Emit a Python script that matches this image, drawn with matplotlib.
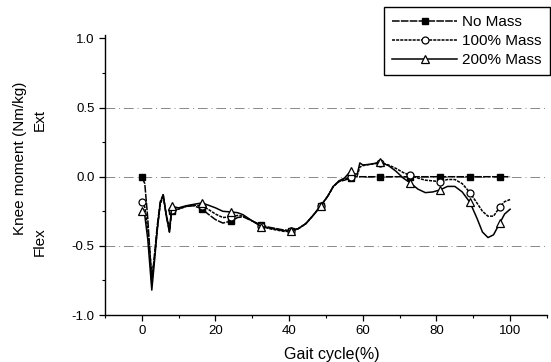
import numpy as np
import matplotlib
matplotlib.use('Agg')
import matplotlib.pyplot as plt
from matplotlib.ticker import MultipleLocator

plt.rcParams['font.family'] = ['Liberation Sans', 'DejaVu Sans']

# Gait cycle (%) sample points
gait = [0, 0.8, 1.6, 2.2, 2.7, 3.3, 4.2, 5.0, 5.8, 6.6, 7.5, 8.1, 10, 12, 14,
        16.2, 18, 20, 22, 24.3, 26, 27.5, 30, 32.4, 34.5, 36.5, 38.5, 40.5,
        42.5, 44.5, 46.5, 48.6, 50.5, 52, 53.5, 55, 56.7, 57.6, 58.5, 59.2,
        60, 62, 64.8, 67, 69, 71, 72.9, 75, 77, 79, 81, 83, 85, 87, 89.1, 91,
        92.5, 94, 95.5, 97.2, 98.5, 100]

# gait positions that carry a marker
marker_x = [0, 8.1, 16.2, 24.3, 32.4, 40.5, 48.6, 56.7, 64.8, 72.9, 81, 89.1, 97.2]

no_mass = [0.0, -0.05, -0.30, -0.55, -0.78, -0.60, -0.35, -0.18, -0.13, -0.28,
           -0.40, -0.25, -0.23, -0.215, -0.21, -0.23, -0.27, -0.31, -0.335,
           -0.32, -0.295, -0.29, -0.32, -0.35, -0.365, -0.375, -0.385, -0.39,
           -0.375, -0.34, -0.28, -0.21, -0.14, -0.07, -0.035, -0.025, -0.01,
           0.0, 0.0, 0.0, 0.0, 0.0, 0.0, 0.0, 0.0, 0.0, 0.0, 0.0, 0.0, 0.0,
           0.0, 0.0, 0.0, 0.0, 0.0, 0.0, 0.0, 0.0, 0.0, 0.0, 0.0, 0.0]

mass_100 = [-0.18, -0.22, -0.38, -0.55, -0.70, -0.62, -0.38, -0.20, -0.14,
            -0.27, -0.38, -0.24, -0.235, -0.215, -0.205, -0.21, -0.235, -0.27,
            -0.295, -0.29, -0.28, -0.285, -0.32, -0.355, -0.375, -0.385,
            -0.395, -0.395, -0.375, -0.34, -0.28, -0.21, -0.14, -0.07, -0.035,
            -0.02, 0.0, 0.0, 0.01, 0.07, 0.08, 0.09, 0.10, 0.085, 0.06, 0.03,
            0.01, -0.01, -0.025, -0.03, -0.035, -0.02, -0.02, -0.05, -0.115,
            -0.19, -0.25, -0.285, -0.285, -0.22, -0.18, -0.165]

mass_200 = [-0.245, -0.28, -0.45, -0.65, -0.82, -0.65, -0.38, -0.19, -0.13,
            -0.27, -0.40, -0.215, -0.225, -0.21, -0.20, -0.19, -0.205, -0.225,
            -0.25, -0.255, -0.26, -0.275, -0.32, -0.36, -0.37, -0.38, -0.39,
            -0.39, -0.375, -0.34, -0.28, -0.21, -0.14, -0.07, -0.03, -0.01,
            0.04, 0.02, 0.02, 0.10, 0.085, 0.09, 0.105, 0.08, 0.04, -0.01,
            -0.045, -0.09, -0.115, -0.11, -0.095, -0.07, -0.07, -0.11, -0.185,
            -0.30, -0.40, -0.44, -0.42, -0.335, -0.27, -0.235]

mark_idx = [gait.index(m) for m in marker_x]

fig = plt.figure(figsize=(5.51, 3.62), dpi=100)
ax = fig.add_axes([0.1906, 0.1298, 0.802, 0.7735])

# dash-dot reference lines
for yv in [0.5, 0.0, -0.5, -1.0]:
    ax.axhline(yv, color='#888888', lw=0.7, ls=(0, (10, 4, 1, 4)), zorder=1)

ax.plot(gait, no_mass, color='black', lw=1.1, ls=(0, (5, 0.8)),
        marker='s', ms=4.5, mfc='black', mec='black',
        markevery=mark_idx, label='No Mass', zorder=3)
ax.plot(gait, mass_100, color='black', lw=1.1, ls=(0, (2, 0.7)),
        marker='o', ms=5, mfc='white', mec='black', mew=0.9,
        markevery=mark_idx, label='100% Mass', zorder=4)
ax.plot(gait, mass_200, color='black', lw=1.1, ls='-',
        marker='^', ms=5.5, mfc='white', mec='black', mew=0.9,
        markevery=mark_idx, label='200% Mass', zorder=5)

ax.set_xlim(-10, 110)
ax.set_ylim(-1.0, 1.025)
ax.xaxis.set_major_locator(MultipleLocator(20))
ax.xaxis.set_minor_locator(MultipleLocator(10))
ax.yaxis.set_minor_locator(MultipleLocator(0.25))
ax.set_yticks([-1.0, -0.5, 0.0, 0.5, 1.0])
ax.set_yticklabels(['-1.0', '-0.5', '0.0', '0.5', '1.0'])
ax.tick_params(which='major', direction='out', length=4, width=0.9, labelsize=9.5)
ax.tick_params(which='minor', direction='out', length=2.5, width=0.8)

ax.spines['top'].set_visible(False)
ax.spines['right'].set_visible(False)
ax.spines['left'].set_linewidth(1.0)
ax.spines['bottom'].set_linewidth(1.0)

# axis labels
fig.text(331.7 / 551, 1 - 355 / 362, 'Gait cycle(%)', ha='center', va='center',
         fontsize=11.5)
fig.text(20 / 551, 1 - 158 / 362, 'Knee moment (Nm/kg)', rotation=90,
         ha='center', va='center', fontsize=11)
fig.text(40 / 551, 1 - 120 / 362, 'Ext', rotation=90, ha='center',
         va='center', fontsize=11)
fig.text(40 / 551, 1 - 242 / 362, 'Flex', rotation=90, ha='center',
         va='center', fontsize=11)

leg = fig.legend(loc='upper right', bbox_to_anchor=(0.998, 0.981),
                 borderaxespad=0, fancybox=False, fontsize=11,
                 handlelength=4.2, handletextpad=0.35, labelspacing=0.32,
                 borderpad=0.55, edgecolor='black', framealpha=1)
leg.get_frame().set_linewidth(1.0)

fig.savefig('out.png', dpi=100)
